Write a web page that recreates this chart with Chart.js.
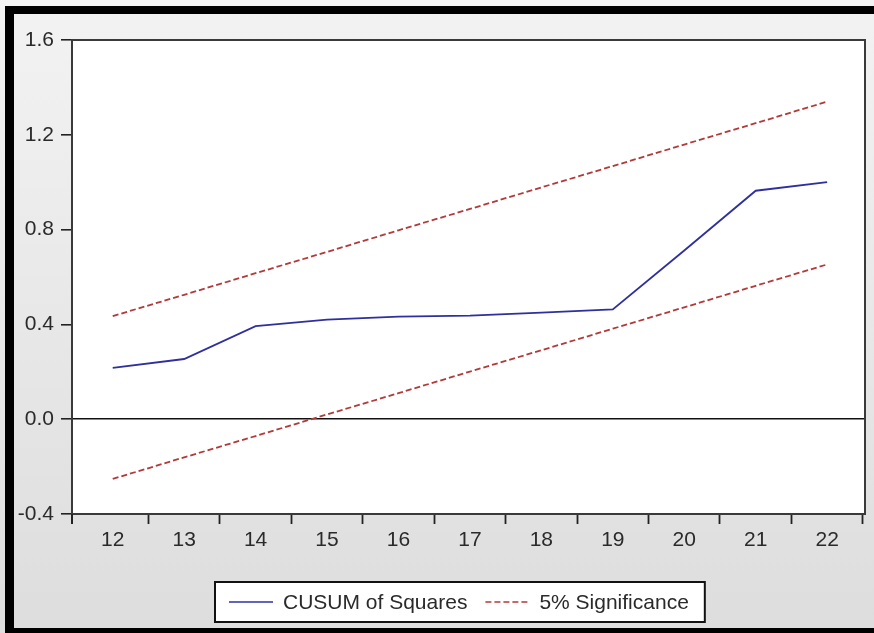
<!DOCTYPE html>
<html>
<head>
<meta charset="utf-8">
<title>CUSUM of Squares</title>
<script src="https://cdn.jsdelivr.net/npm/chart.js@4.4.1/dist/chart.umd.min.js"></script>
<style>
  html, body { margin: 0; padding: 0; background: #eeeeee; }
  canvas { display: block; }
</style>
</head>
<body>
<canvas id="chart" width="874" height="633"></canvas>
<script>
// Recursive residual periods and the CUSUM of squares statistic
const periods = [12, 13, 14, 15, 16, 17, 18, 19, 20, 21, 22];
const cusumSquares = [0.217, 0.254, 0.393, 0.420, 0.433, 0.437, 0.450, 0.463, 0.712, 0.964, 1.000];
// 5% significance band
const upperBound = [0.435, 0.525, 0.616, 0.706, 0.797, 0.887, 0.978, 1.068, 1.159, 1.249, 1.340];
const lowerBound = [-0.252, -0.161, -0.071, 0.020, 0.110, 0.201, 0.291, 0.382, 0.472, 0.563, 0.653];
// Axis tick values
const yTickValues = [-0.4, 0.0, 0.4, 0.8, 1.2, 1.6];
const seriesNames = ['CUSUM of Squares', '5% Significance'];

const FONT = 'Arial, "Liberation Sans", sans-serif';
const INK = '#2a2a2a';
const BLUE = '#2f2f9f';
const RED = '#b23a3a';

const toPoints = vals => periods.map((p, i) => ({ x: p, y: vals[i] }));

// Window background, black frame edges and white plot area
const pageFrame = {
  id: 'pageFrame',
  beforeDraw(chart) {
    const { ctx, width, height, chartArea: a } = chart;
    ctx.save();
    const g = ctx.createLinearGradient(0, 0, 0, height);
    g.addColorStop(0, '#f3f3f3');
    g.addColorStop(1, '#dddddd');
    ctx.fillStyle = g;
    ctx.fillRect(0, 0, width, height);
    ctx.fillStyle = '#000';
    ctx.fillRect(5, 6, width - 5, 8);
    ctx.fillRect(5, 6, 9, height - 6);
    ctx.fillRect(5, height - 5, width - 5, 5);
    ctx.fillStyle = '#fff';
    ctx.fillRect(a.left, a.top, a.right - a.left, a.bottom - a.top);
    ctx.restore();
  },
  afterDatasetsDraw(chart) {
    const { ctx, chartArea: a } = chart;
    ctx.save();
    ctx.strokeStyle = '#3a3a3a';
    ctx.lineWidth = 2;
    ctx.strokeRect(a.left, a.top, a.right - a.left, a.bottom - a.top);
    // corner tick continuing the left edge below the axis
    ctx.strokeStyle = '#222';
    ctx.beginPath();
    ctx.moveTo(a.left, a.bottom);
    ctx.lineTo(a.left, a.bottom + 10);
    ctx.stroke();
    ctx.restore();
  }
};

// Boxed legend underneath the axis
const boxedLegend = {
  id: 'boxedLegend',
  afterDraw(chart, args, o) {
    const ctx = chart.ctx;
    const items = chart.data.datasets.filter(ds => !ds.skipLegend);
    ctx.save();
    ctx.font = `${o.fontSize}px ${FONT}`;
    ctx.textBaseline = 'middle';
    ctx.textAlign = 'left';
    let x = o.left + o.padLeft;
    const cy = o.top + o.height / 2;
    const layout = items.map(ds => {
      const w = ctx.measureText(ds.label).width;
      const item = { ds, x, textX: x + o.sample + o.gap, w };
      x = item.textX + w + o.spacing;
      return item;
    });
    const right = layout[layout.length - 1].textX + layout[layout.length - 1].w + o.padRight;
    ctx.fillStyle = '#fff';
    ctx.fillRect(o.left, o.top, right - o.left, o.height);
    ctx.strokeStyle = '#111';
    ctx.lineWidth = 2;
    ctx.strokeRect(o.left, o.top, right - o.left, o.height);
    layout.forEach(it => {
      ctx.save();
      ctx.strokeStyle = it.ds.borderColor;
      ctx.lineWidth = 1.4;
      ctx.setLineDash(it.ds.borderDash || []);
      ctx.beginPath();
      ctx.moveTo(it.x, cy);
      ctx.lineTo(it.x + o.sample, cy);
      ctx.stroke();
      ctx.restore();
      ctx.fillStyle = INK;
      ctx.fillText(it.ds.label, it.textX, cy + 1);
    });
    ctx.restore();
  }
};

Chart.defaults.font.family = FONT;
Chart.defaults.font.size = 21;
Chart.defaults.color = INK;

new Chart(document.getElementById('chart'), {
  type: 'line',
  data: {
    datasets: [
      {
        label: seriesNames[0],
        data: toPoints(cusumSquares),
        borderColor: BLUE,
        borderWidth: 1.8,
        pointRadius: 0,
        tension: 0,
        fill: false
      },
      {
        label: seriesNames[1],
        data: toPoints(upperBound),
        borderColor: RED,
        borderWidth: 1.8,
        borderDash: [6, 3],
        pointRadius: 0,
        tension: 0,
        fill: false
      },
      {
        label: seriesNames[1],
        data: toPoints(lowerBound),
        borderColor: RED,
        borderWidth: 1.8,
        borderDash: [6, 3],
        pointRadius: 0,
        tension: 0,
        fill: false,
        skipLegend: true
      }
    ]
  },
  options: {
    responsive: false,
    animation: false,
    devicePixelRatio: 1,
    layout: { padding: { left: 14, right: 9, top: 40, bottom: 79 } },
    plugins: {
      legend: { display: false },
      tooltip: { enabled: false },
      boxedLegend: {
        left: 215, top: 582, height: 40,
        padLeft: 14, padRight: 16,
        sample: 44, gap: 10, spacing: 18,
        fontSize: 21
      }
    },
    scales: {
      x: {
        type: 'linear',
        min: 11.43,
        max: 22.53,
        afterBuildTicks: s => { s.ticks = periods.map(v => ({ value: v })); },
        afterFit: s => { s.height = 40; },
        border: { display: false },
        grid: {
          offset: true,
          drawOnChartArea: false,
          tickLength: 10,
          tickWidth: 1.8,
          tickColor: c => (c.index === 0 ? 'rgba(0,0,0,0)' : '#222')
        },
        ticks: {
          padding: 4,
          color: INK,
          callback: v => String(v)
        }
      },
      y: {
        type: 'linear',
        min: -0.4,
        max: 1.6,
        afterBuildTicks: s => { s.ticks = yTickValues.map(v => ({ value: v })); },
        afterFit: s => { s.width = 58; },
        border: { display: false },
        grid: {
          color: c => (c.tick && Math.abs(c.tick.value) < 1e-9 ? '#111' : 'rgba(0,0,0,0)'),
          lineWidth: 1.6,
          tickLength: 11,
          tickWidth: 1.6,
          tickColor: '#222'
        },
        ticks: {
          padding: 7,
          color: INK,
          callback: v => v.toFixed(1)
        }
      }
    }
  },
  plugins: [pageFrame, boxedLegend]
});
</script>
</body>
</html>
